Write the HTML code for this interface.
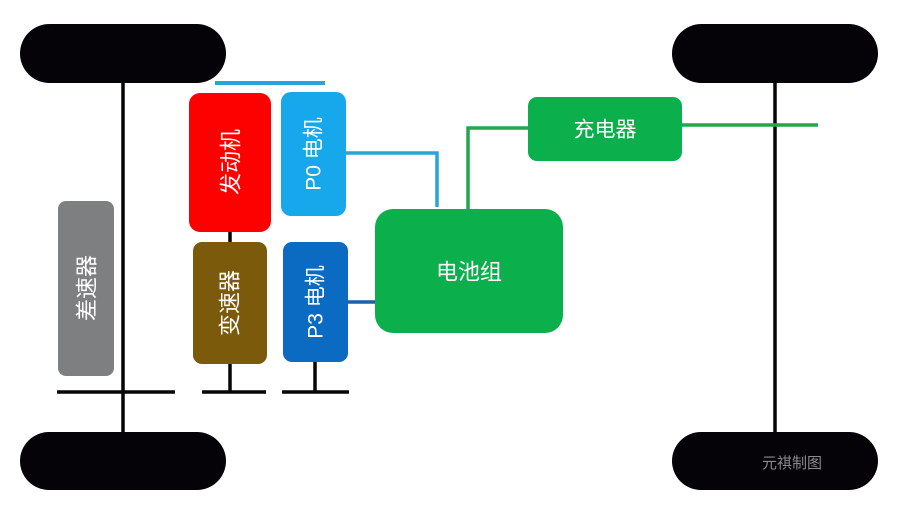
<!DOCTYPE html>
<html><head><meta charset="utf-8"><style>html,body{margin:0;padding:0;background:#fff}svg{display:block}</style></head>
<body>
<svg width="903" height="510" viewBox="0 0 903 510" xmlns="http://www.w3.org/2000/svg" font-family="Liberation Sans, Noto Sans CJK SC, sans-serif">
<rect x="0" y="0" width="903" height="510" fill="#fff"/>
<!-- axles -->
<line x1="123" y1="80" x2="123" y2="435" stroke="#050505" stroke-width="3.5"/>
<line x1="775" y1="80" x2="775" y2="435" stroke="#050505" stroke-width="3.5"/>
<line x1="57" y1="392" x2="175" y2="392" stroke="#050505" stroke-width="3.5"/>
<line x1="202" y1="392" x2="266" y2="392" stroke="#050505" stroke-width="3.5"/>
<line x1="282" y1="392" x2="349" y2="392" stroke="#050505" stroke-width="3.5"/>
<line x1="230" y1="230" x2="230" y2="244" stroke="#050505" stroke-width="3.5"/>
<line x1="230" y1="362" x2="230" y2="392" stroke="#050505" stroke-width="3.5"/>
<line x1="315" y1="360" x2="315" y2="392" stroke="#050505" stroke-width="3.5"/>
<!-- wheels -->
<rect x="20" y="24" width="206" height="59" rx="29.5" fill="#050308"/>
<rect x="672" y="24" width="206" height="59" rx="29.5" fill="#050308"/>
<rect x="20" y="432" width="206" height="58" rx="29" fill="#050308"/>
<rect x="672" y="432" width="206" height="58" rx="29" fill="#050308"/>
<text x="792" y="468" font-size="15" fill="#8a8a8a" text-anchor="middle">元祺制图</text>
<!-- connectors -->
<line x1="215" y1="83" x2="325" y2="83" stroke="#2aa3d9" stroke-width="4"/>
<polyline points="346,153 437,153 437,207" fill="none" stroke="#2aa3d9" stroke-width="3.5"/>
<line x1="347" y1="302" x2="377" y2="302" stroke="#1f5fa8" stroke-width="3.5"/>
<polyline points="468,210 468,128 530,128" fill="none" stroke="#1fa84f" stroke-width="3.5"/>
<line x1="680" y1="125" x2="818" y2="125" stroke="#1fa84f" stroke-width="3.5"/>
<!-- boxes -->
<rect x="58" y="201" width="56" height="175" rx="8" fill="#7e7f81"/>
<text transform="translate(87,288) rotate(-90)" font-size="22" fill="#fff" text-anchor="middle" dominant-baseline="central">差速器</text>
<rect x="189" y="93" width="82" height="139" rx="11" fill="#fd0000"/>
<text transform="translate(231,162) rotate(-90)" font-size="22" fill="#fff" text-anchor="middle" dominant-baseline="central">发动机</text>
<rect x="281" y="92" width="65" height="124" rx="10" fill="#16a8ea"/>
<text transform="translate(314,154) rotate(-90)" font-size="21" fill="#fff" text-anchor="middle" dominant-baseline="central">P0 电机</text>
<rect x="193" y="242" width="74" height="122" rx="9" fill="#7b5a0b"/>
<text transform="translate(230,303) rotate(-90)" font-size="22" fill="#fff" text-anchor="middle" dominant-baseline="central">变速器</text>
<rect x="283" y="242" width="65" height="120" rx="9" fill="#0b6bc3"/>
<text transform="translate(316,302) rotate(-90)" font-size="21" fill="#fff" text-anchor="middle" dominant-baseline="central">P3 电机</text>
<rect x="375" y="209" width="188" height="124" rx="18" fill="#0bb04c"/>
<text x="469" y="272" font-size="22" fill="#fff" text-anchor="middle" dominant-baseline="central">电池组</text>
<rect x="528" y="97" width="154" height="64" rx="9" fill="#0bb04c"/>
<text x="605" y="130" font-size="21" fill="#fff" text-anchor="middle" dominant-baseline="central">充电器</text>
</svg>
</body></html>
